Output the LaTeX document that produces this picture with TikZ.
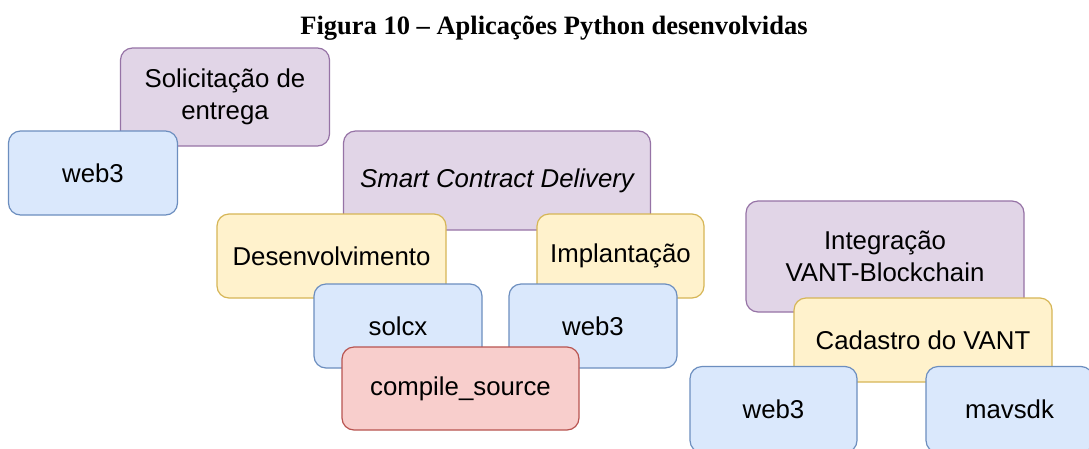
\documentclass[tikz,border=0pt]{standalone}
\usepackage{fontspec}
\setmainfont{Liberation Sans}
\newfontfamily\titlefont{Liberation Serif}
\definecolor{pfill}{HTML}{E1D5E7}\definecolor{pdraw}{HTML}{9673A6}
\definecolor{bfill}{HTML}{DAE8FC}\definecolor{bdraw}{HTML}{6C8EBF}
\definecolor{yfill}{HTML}{FFF2CC}\definecolor{ydraw}{HTML}{D6B656}
\definecolor{rfill}{HTML}{F8CECC}\definecolor{rdraw}{HTML}{B85450}
\begin{document}
\begin{tikzpicture}[x=1pt,y=-1pt,
  box/.style={rectangle, rounded corners=12pt, line width=1.2pt, inner sep=0pt,
    align=center, font=\fontsize{25.8}{31.5}\selectfont},
  pbox/.style={box, fill=pfill, draw=pdraw},
  bbox/.style={box, fill=bfill, draw=bdraw},
  ybox/.style={box, fill=yfill, draw=ydraw},
  rbox/.style={box, fill=rfill, draw=rdraw},
  sz/.style 2 args={minimum width=#1pt, minimum height=#2pt}]
\useasboundingbox (0,0) rectangle (1089,448);
\fill[white] (0,0) rectangle (1089,448);
\node[anchor=base, font=\titlefont\bfseries\fontsize{26.5}{30}\selectfont] (title) at (554,34.5) {Figura 10 – Aplicações Python desenvolvidas};
% left group
\node[pbox, sz={209}{98}] (sol) at (225,97) {Solicitação de\\entrega};
\node[bbox, sz={169}{84}] (w1) at (93,173) {web3};
% middle group
\node[pbox, sz={307}{99}] (scd) at (497,180.5) {\itshape Smart Contract Delivery};
\node[ybox, sz={229}{84}] (dev) at (331.5,256) {Desenvolvimento};
\node[ybox, sz={167}{84}] (imp) at (620.5,256) {Implantação};
\node[bbox, sz={168}{84}] (solcx) at (398,326) {solcx};
\node[bbox, sz={168}{84}] (w2) at (593,326) {web3};
\node[rbox, sz={237}{83}] (cs) at (460.5,388.5) {compile\_source};
% right group
\node[pbox, sz={278}{111}] (int) at (885,256.5) {Integração\\VANT-Blockchain};
\node[ybox, sz={258}{84}] (cad) at (923,340) {Cadastro do VANT};
\node[bbox, sz={167}{86}] (w3) at (773.5,409.5) {web3};
\node[bbox, sz={167}{86}] (mav) at (1009.5,409.5) {mavsdk};
\end{tikzpicture}
\end{document}
